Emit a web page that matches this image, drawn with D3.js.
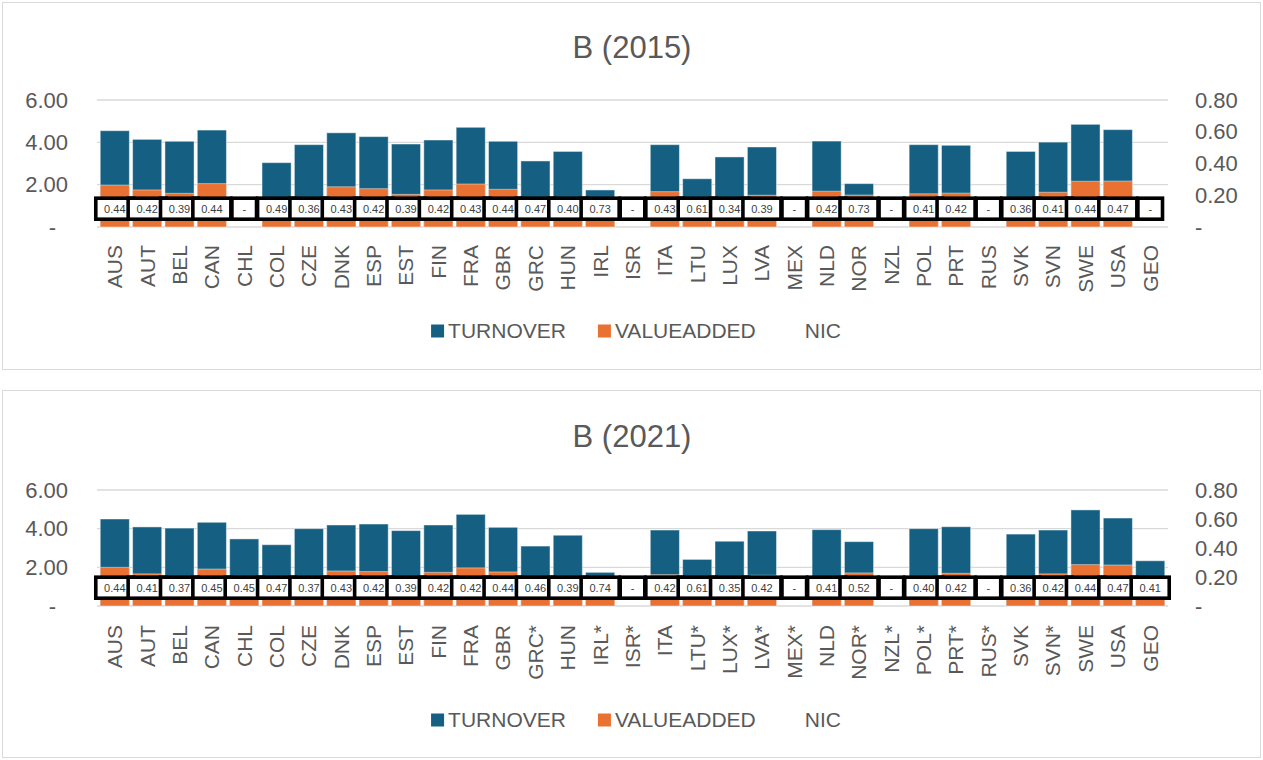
<!DOCTYPE html>
<html>
<head>
<meta charset="utf-8">
<script src="https://cdn.jsdelivr.net/npm/d3@7"></script>
<style>
  body { margin: 0; background: #fff; }
  text { font-family: "Liberation Sans", Arial, sans-serif; }
</style>
</head>
<body>
<svg id="chart" width="1263" height="760"></svg>
<script>
// data
const countries2015 = ["AUS","AUT","BEL","CAN","CHL","COL","CZE","DNK","ESP","EST","FIN","FRA","GBR","GRC","HUN","IRL","ISR","ITA","LTU","LUX","LVA","MEX","NLD","NOR","NZL","POL","PRT","RUS","SVK","SVN","SWE","USA","GEO"];
const turnover2015 = [4.55,4.14,4.05,4.58,null,3.04,3.89,4.45,4.27,3.92,4.11,4.71,4.05,3.12,3.57,1.75,null,3.89,2.28,3.31,3.78,null,4.06,2.05,null,3.89,3.86,null,3.57,4.01,4.85,4.60,null];
const valueAdded2015 = [1.98,1.75,1.59,2.05,null,1.30,1.30,1.90,1.81,1.54,1.75,2.03,1.78,1.30,1.30,1.30,null,1.67,1.30,1.30,1.50,null,1.69,1.51,null,1.57,1.60,null,1.30,1.64,2.16,2.17,null];
const nic2015 = [0.44,0.42,0.39,0.44,null,0.49,0.36,0.43,0.42,0.39,0.42,0.43,0.44,0.47,0.40,0.73,null,0.43,0.61,0.34,0.39,null,0.42,0.73,null,0.41,0.42,null,0.36,0.41,0.44,0.47,null];

const countries2021 = ["AUS","AUT","BEL","CAN","CHL","COL","CZE","DNK","ESP","EST","FIN","FRA","GBR","GRC*","HUN","IRL*","ISR*","ITA","LTU*","LUX*","LVA*","MEX*","NLD","NOR*","NZL*","POL*","PRT*","RUS*","SVK","SVN*","SWE","USA","GEO"];
const turnover2021 = [4.50,4.09,4.03,4.33,3.47,3.17,4.00,4.19,4.24,3.90,4.19,4.74,4.07,3.10,3.66,1.74,null,3.93,2.41,3.35,3.88,null,3.95,3.33,null,4.00,4.10,null,3.72,3.93,4.97,4.55,2.34];
const valueAdded2021 = [2.00,1.66,1.30,1.91,1.30,1.30,1.30,1.81,1.78,1.30,1.74,1.97,1.76,1.30,1.30,1.30,null,1.62,1.30,1.30,1.59,null,1.30,1.71,null,1.30,1.69,null,1.30,1.66,2.14,2.12,1.30];
const nic2021 = [0.44,0.41,0.37,0.45,0.45,0.47,0.37,0.43,0.42,0.39,0.42,0.42,0.44,0.46,0.39,0.74,null,0.42,0.61,0.35,0.42,null,0.41,0.52,null,0.40,0.42,null,0.36,0.42,0.44,0.47,0.41];

const leftTicks = [0, 2, 4, 6];
const rightTicks = [0, 0.2, 0.4, 0.6, 0.8];
const seriesNames = ["TURNOVER", "VALUEADDED", "NIC"];
const seriesColors = ["#156082", "#E97132", "none"];

const textColor = "#595959";
const gridColor = "#d9d9d9";
const plotLeft = 97, plotRight = 1168;

const svg = d3.select("#chart");

function drawPanel(p) {
  const g = svg.append("g");

  // panel frame
  g.append("rect")
    .attr("x", 2.5).attr("y", p.top + 0.5)
    .attr("width", 1258).attr("height", 367)
    .attr("fill", "#fff").attr("stroke", gridColor);

  g.append("text")
    .attr("x", 632).attr("y", p.titleY)
    .attr("text-anchor", "middle")
    .attr("font-size", 31).attr("fill", textColor)
    .text(p.title);

  const x = d3.scaleBand().domain(p.cats).range([plotLeft, plotRight]).padding(0.1);
  const y = d3.scaleLinear().domain([0, 6]).range([p.base, p.plotTop]);
  const y2 = d3.scaleLinear().domain([0, 0.8]).range([p.base, p.plotTop]);

  // gridlines
  g.append("g").selectAll("line").data(leftTicks).join("line")
    .attr("x1", plotLeft).attr("x2", plotRight)
    .attr("y1", d => y(d)).attr("y2", d => y(d))
    .attr("stroke", gridColor).attr("stroke-width", 1.3);

  // left axis
  const yAx = g.append("g")
    .attr("transform", "translate(" + plotLeft + ",0)")
    .call(d3.axisLeft(y).tickValues(leftTicks).tickSize(0).tickPadding(29)
      .tickFormat(d => d === 0 ? "-" : d3.format(".2f")(d)));
  yAx.select(".domain").remove();
  yAx.selectAll("text").attr("font-size", 22).attr("fill", textColor).attr("font-family", null)
    .attr("dx", d => d === 0 ? -12 : 0);

  // right axis
  const y2Ax = g.append("g")
    .attr("transform", "translate(" + plotRight + ",0)")
    .call(d3.axisRight(y2).tickValues(rightTicks).tickSize(0).tickPadding(27)
      .tickFormat(d => d === 0 ? "-" : d3.format(".2f")(d)));
  y2Ax.select(".domain").remove();
  y2Ax.selectAll("text").attr("font-size", 22).attr("fill", textColor).attr("font-family", null);

  // category axis
  const xAx = g.append("g")
    .attr("transform", "translate(0," + p.base + ")")
    .call(d3.axisBottom(x).tickSize(0));
  xAx.select(".domain").remove();
  xAx.selectAll("text")
    .attr("transform", "rotate(-90)")
    .attr("text-anchor", "end")
    .attr("x", -p.catGap).attr("y", 0).attr("dy", "0.35em")
    .attr("font-size", 21).attr("fill", textColor).attr("font-family", null);

  const rows = p.cats.map((c, i) => ({ c: c, t: p.turnover[i], v: p.valueAdded[i], n: p.nic[i] }));

  // turnover bars
  g.append("g").selectAll("rect").data(rows.filter(d => d.t != null)).join("rect")
    .attr("x", d => x(d.c)).attr("width", x.bandwidth())
    .attr("y", d => y(d.t)).attr("height", d => p.base - y(d.t))
    .attr("fill", seriesColors[0])
    .attr("stroke", "#fff").attr("stroke-opacity", 0.45).attr("stroke-width", 1);

  // value added bars, drawn over turnover
  g.append("g").selectAll("rect").data(rows.filter(d => d.v != null)).join("rect")
    .attr("x", d => x(d.c)).attr("width", x.bandwidth())
    .attr("y", d => y(d.v)).attr("height", d => p.base - y(d.v))
    .attr("fill", seriesColors[1])
    .attr("stroke", "#fff").attr("stroke-opacity", 0.45).attr("stroke-width", 1);

  // NIC labels in boxes
  const bandY = p.base - 18.3;
  const lab = g.append("g").selectAll("g").data(rows).join("g")
    .attr("transform", d => "translate(" + (x(d.c) + x.bandwidth() / 2) + "," + bandY + ")");
  const boxes = lab.append("rect")
    .attr("fill", "#fff").attr("stroke", "#000").attr("stroke-width", 3.6);
  lab.append("text")
    .attr("text-anchor", "middle").attr("dy", "0.35em")
    .attr("font-size", 11).attr("fill", "#404040")
    .text(d => d.n == null ? "-" : d3.format(".2f")(d.n))
    .each(function (d) { d.tw = this.getComputedTextLength(); });
  boxes.each(function (d) {
    const w = Math.max(21, d.tw + 13) + 3.6;
    d3.select(this).attr("x", -w / 2).attr("width", w).attr("y", -10.5).attr("height", 21);
  });

  // legend
  const leg = g.append("g");
  let cx = 0;
  seriesNames.forEach((name, i) => {
    leg.append("rect").attr("x", cx).attr("y", p.legendY - 6.5).attr("width", 13).attr("height", 13)
      .attr("fill", seriesColors[i]);
    const t = leg.append("text").attr("x", cx + 17).attr("y", p.legendY).attr("dy", "0.35em")
      .attr("font-size", 21).attr("fill", textColor).text(name);
    cx += 17 + t.node().getComputedTextLength() + 32;
  });
  cx -= 32;
  leg.attr("transform", "translate(" + (636 - cx / 2) + ",0)");
}

drawPanel({
  top: 2, title: "B (2015)", titleY: 58, plotTop: 100, base: 227, catGap: 18, legendY: 331,
  cats: countries2015, turnover: turnover2015, valueAdded: valueAdded2015, nic: nic2015
});
drawPanel({
  top: 390, title: "B (2021)", titleY: 447, plotTop: 490, base: 606, catGap: 19, legendY: 720,
  cats: countries2021, turnover: turnover2021, valueAdded: valueAdded2021, nic: nic2021
});
</script>
</body>
</html>
